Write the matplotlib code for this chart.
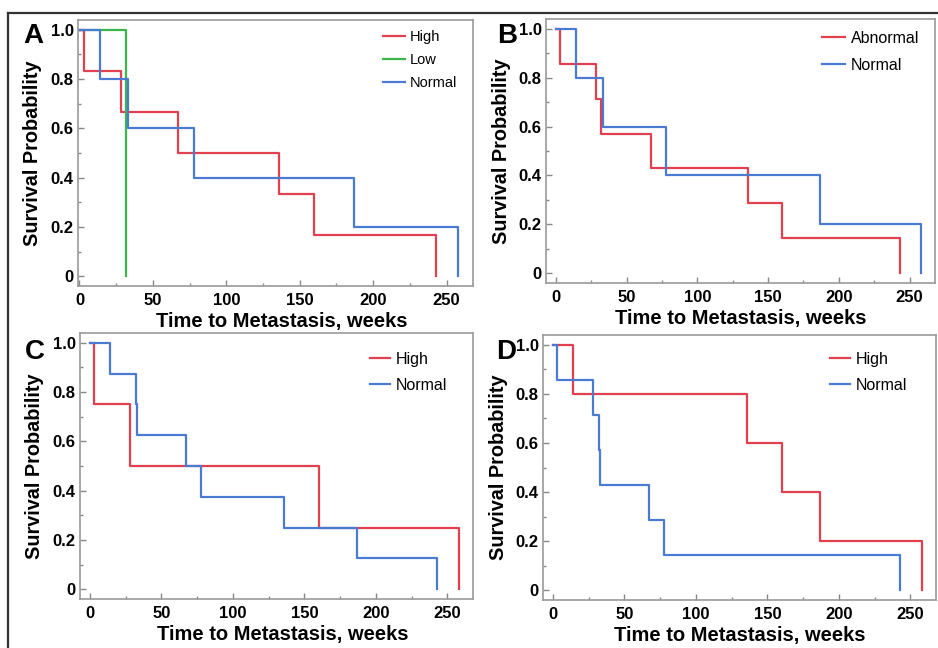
import matplotlib.pyplot as plt
from matplotlib.lines import Line2D
from matplotlib.ticker import MultipleLocator

plt.rcParams['font.family'] = ['Liberation Sans', 'DejaVu Sans']

RED = "#e2404f"
GREEN = "#3cb54a"
BLUE = "#4a7bd2"

# event times (weeks) and survival after each event
a_high_t = [3, 28, 67, 136, 160, 243]
a_high_s = [0.833, 0.667, 0.5, 0.333, 0.167, 0.0]
a_low_t = [32]
a_low_s = [0.0]
a_norm_t = [14, 33, 78, 187, 258]
a_norm_s = [0.8, 0.6, 0.4, 0.2, 0.0]

b_abn_t = [3, 28, 32, 67, 136, 160, 243]
b_abn_s = [0.857, 0.714, 0.571, 0.429, 0.286, 0.143, 0.0]
b_norm_t = [14, 33, 78, 187, 258]
b_norm_s = [0.8, 0.6, 0.4, 0.2, 0.0]

c_high_t = [3, 28, 160, 258]
c_high_s = [0.75, 0.5, 0.25, 0.0]
c_norm_t = [14, 32, 33, 67, 78, 136, 187, 243]
c_norm_s = [0.875, 0.75, 0.625, 0.5, 0.375, 0.25, 0.125, 0.0]

d_high_t = [14, 136, 160, 187, 258]
d_high_s = [0.8, 0.6, 0.4, 0.2, 0.0]
d_norm_t = [3, 28, 32, 33, 67, 78, 243]
d_norm_s = [0.857, 0.714, 0.571, 0.429, 0.286, 0.143, 0.0]

W, H = 938, 648


def box(l, t, r, b):
    return [l / W, 1 - b / H, (r - l) / W, (b - t) / H]


def km(ax, t, s, col, lab):
    # step curve starting at 1.0 at time 0
    xs = [0] + t
    ys = [1.0] + s
    ax.step(xs, ys, where="post", color=col, lw=1.6, label=lab)


def style(ax, x0, letter, lx, ly, xl=0.5):
    ax.set_xlim(x0, 268)
    ax.set_ylim(-0.04, 1.04)
    ax.xaxis.set_major_locator(MultipleLocator(50))
    ax.xaxis.set_minor_locator(MultipleLocator(25))
    ax.yaxis.set_major_locator(MultipleLocator(0.2))
    ax.yaxis.set_minor_locator(MultipleLocator(0.1))
    ax.set_yticks([0, 0.2, 0.4, 0.6, 0.8, 1.0])
    ax.set_yticklabels(["0", "0.2", "0.4", "0.6", "0.8", "1.0"])
    ax.tick_params(which="both", direction="in", color="#888888", width=1)
    ax.tick_params(which="major", length=4, labelsize=12, pad=3)
    ax.tick_params(axis="x", which="major", pad=5)
    ax.tick_params(which="minor", length=2.5)
    for lb in ax.get_xticklabels() + ax.get_yticklabels():
        lb.set_fontweight("bold")
    for sp in ax.spines.values():
        sp.set_color("#999999")
        sp.set_linewidth(1.2)
    ax.set_xlabel("Time to Metastasis, weeks", fontsize=14.5, fontweight="bold",
                  labelpad=3, x=xl)
    ax.set_ylabel("Survival Probability", fontsize=14.3, fontweight="bold", labelpad=6)
    fig.text(lx / W, 1 - ly / H, letter, fontsize=20, fontweight="bold",
             ha="center", va="center")


fig = plt.figure(figsize=(W / 100, H / 100), dpi=100)

axA = fig.add_axes(box(78, 20, 473, 286))
km(axA, a_high_t, a_high_s, RED, "High")
km(axA, a_low_t, a_low_s, GREEN, "Low")
km(axA, a_norm_t, a_norm_s, BLUE, "Normal")
style(axA, -1, "A", 33, 36, 0.515)

axB = fig.add_axes(box(546, 19, 935, 283))
km(axB, b_abn_t, b_abn_s, RED, "Abnormal")
km(axB, b_norm_t, b_norm_s, BLUE, "Normal")
style(axB, -7, "B", 507, 36)

axC = fig.add_axes(box(80, 333, 473, 599))
km(axC, c_high_t, c_high_s, RED, "High")
km(axC, c_norm_t, c_norm_s, BLUE, "Normal")
style(axC, -7, "C", 35, 352, 0.515)

axD = fig.add_axes(box(543, 335, 936, 600))
km(axD, d_high_t, d_high_s, RED, "High")
km(axD, d_norm_t, d_norm_s, BLUE, "Normal")
style(axD, -7, "D", 506, 352)

# legend placement: axes, x, y, font size, handle length, row spacing
leg_pos = [(axA, 0.772, 0.962, 10.5, 1.5, 0.6),
           (axB, 0.71, 0.955, 11.5, 1.45, 0.74),
           (axC, 0.738, 0.929, 11.5, 1.25, 0.68),
           (axD, 0.730, 0.936, 11.5, 1.25, 0.68)]
for ax, lx, ly, fs, hl, ls in leg_pos:
    ax.legend(loc="upper left", bbox_to_anchor=(lx, ly), frameon=False,
              fontsize=fs, handlelength=hl, handletextpad=0.35,
              labelspacing=ls, borderpad=0, borderaxespad=0)

# outer frame of the figure
fig.add_artist(Line2D([8 / W, 8 / W], [0, 1 - 13 / H], color="#333333", lw=1.6))
fig.add_artist(Line2D([8 / W, 1], [1 - 13 / H, 1 - 13 / H], color="#333333", lw=1.6))

fig.savefig("out.png", dpi=100)
